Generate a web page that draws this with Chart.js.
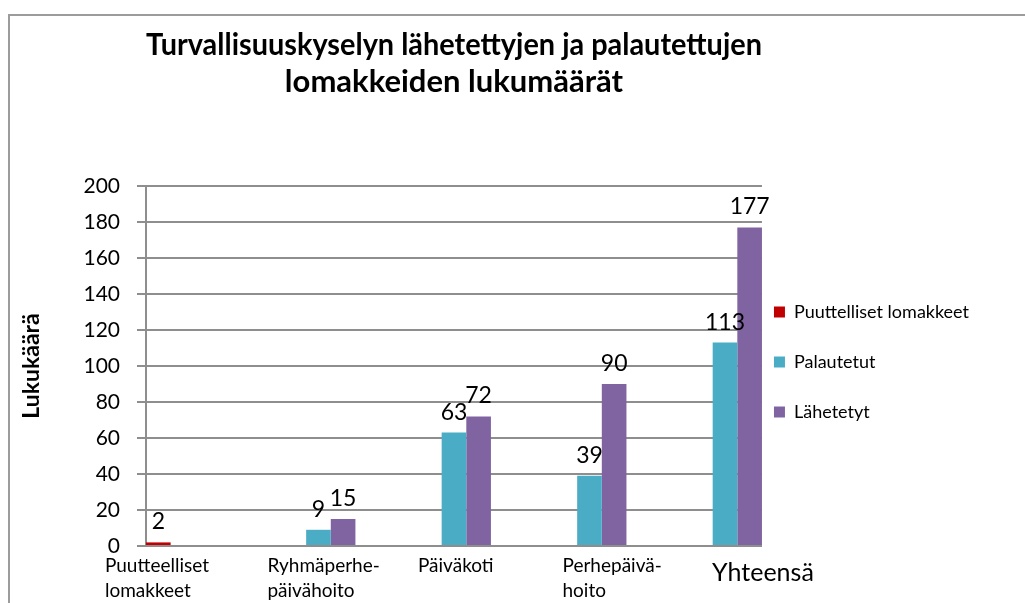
<!DOCTYPE html>
<html>
<head>
<meta charset="utf-8">
<script src="https://cdn.jsdelivr.net/npm/chart.js@4.4.0/dist/chart.umd.min.js"></script>
<style>
  html, body { margin: 0; padding: 0; background: #fff; overflow: hidden; }
  #wrap { position: relative; width: 1025px; height: 603px; }
  #frame { position: absolute; left: 8px; top: 14px; width: 1100px; height: 700px; border: 2px solid #9c9c9c; }
  canvas { position: absolute; left: 0; top: 0; }
</style>
</head>
<body>
<div id="wrap">
  <div id="frame"></div>
  <canvas id="lomakkeet" width="1025" height="603"></canvas>
</div>
<script>
// luokat (rivitetty kuten alkuperäisessä)
const kategoriat = [["Puutteelliset", "lomakkeet"], ["Ryhmäperhe-", "päivähoito"], ["Päiväkoti"], ["Perhepäivä-", "hoito"], ["Yhteensä"]]
const sarjat = ["Puuttelliset lomakkeet", "Palautetut", "Lähetetyt"]
const puutteelliset = [2, null, null, null, null]
const palautetut = [null, 9, 63, 39, 113]
const lahetetyt = [null, 15, 72, 90, 177]
const yMin = 0
const yMax = 200
const yStep = 20

const varit = ["#C00000", "#4BACC6", "#8064A2"]
const fontti = "Lato"

// x-nimien siirto luokan keskikohdasta (tekstilaatikot oli käsin aseteltu)
const nimiSiirto = [-78, -51, -36, -27, -13]

const pisteet = arr => arr.map((v, i) => ({ x: i, y: v }))

const arvot = {
	id: "arvot",
	afterDatasetsDraw(chart) {
		const { ctx } = chart
		ctx.save()
		ctx.font = "23px " + fontti
		ctx.fillStyle = "#000"
		ctx.textAlign = "center"
		ctx.textBaseline = "alphabetic"
		chart.data.datasets.forEach((ds, di) => {
			chart.getDatasetMeta(di).data.forEach((bar, i) => {
				const v = ds.data[i].y
				if (v === null) return
				ctx.fillText(String(v), bar.x, bar.y - 13)
			})
		})
		ctx.restore()
	}
}

const nimet = {
	id: "nimet",
	afterDraw(chart) {
		const { ctx } = chart
		const xs = chart.scales.x
		ctx.save()
		ctx.fillStyle = "#000"
		ctx.textAlign = "left"
		ctx.textBaseline = "alphabetic"
		kategoriat.forEach((rivit, i) => {
			const x = xs.getPixelForValue(i) + nimiSiirto[i]
			const iso = i === kategoriat.length - 1
			ctx.font = (iso ? 25 : 19) + "px " + fontti
			rivit.forEach((r, j) => {
				ctx.fillText(r, x, xs.top + (iso ? 35 : 26) + j * 25)
			})
		})
		ctx.restore()
	}
}

const siirraSelite = {
	id: "siirraSelite",
	afterLayout(chart) {
		const l = chart.legend
		l.left -= 20
		l.right -= 20
		l.top -= 4
		l.bottom -= 4
	}
}

const harmaa = "#8e8e8e"

new Chart(document.getElementById("lomakkeet"), {
	type: "bar",
	data: {
		datasets: [
			{ label: sarjat[0], data: pisteet(puutteelliset), backgroundColor: varit[0] },
			{ label: sarjat[1], data: pisteet(palautetut), backgroundColor: varit[1] },
			{ label: sarjat[2], data: pisteet(lahetetyt), backgroundColor: varit[2] }
		]
	},
	options: {
		responsive: false,
		animation: false,
		layout: { padding: { right: 26 } },
		datasets: {
			bar: { categoryPercentage: 3 / 5.5, barPercentage: 1 }
		},
		scales: {
			x: {
				type: "linear",
				offset: false,
				min: -1.5 / 5.5,
				max: 4 + 1.5 / 5.5,
				grid: { display: false, offset: false },
				border: { color: harmaa, width: 2 },
				ticks: { display: false, stepSize: 1 },
				afterFit: s => { s.height = 57 }
			},
			y: {
				min: yMin,
				max: yMax,
				ticks: { stepSize: yStep, color: "#000", padding: 17, font: { family: fontti, size: 21 } },
				grid: { color: harmaa, lineWidth: 2, tickLength: 9 },
				border: { color: harmaa, width: 2 },
				title: {
					display: true,
					text: "Lukukäärä",
					color: "#000",
					font: { family: fontti, size: 23, weight: "bold" },
					padding: { top: 18, bottom: 0 }
				},
				afterFit: s => { s.width = 146 }
			}
		},
		plugins: {
			title: {
				display: true,
				fullSize: false,
				text: ["Turvallisuuskyselyn lähetettyjen ja palautettujen", "lomakkeiden lukumäärät"],
				color: "#000",
				font: { family: fontti, size: 31, weight: "bold", lineHeight: "37px" },
				padding: { top: 26, bottom: 86 }
			},
			legend: {
				position: "right",
				fullSize: false,
				labels: {
					boxWidth: 11,
					boxHeight: 11,
					padding: 32,
					color: "#000",
					font: { family: fontti, size: 18 }
				}
			},
			tooltip: { enabled: false }
		}
	},
	plugins: [arvot, nimet, siirraSelite]
})
</script>
</body>
</html>
